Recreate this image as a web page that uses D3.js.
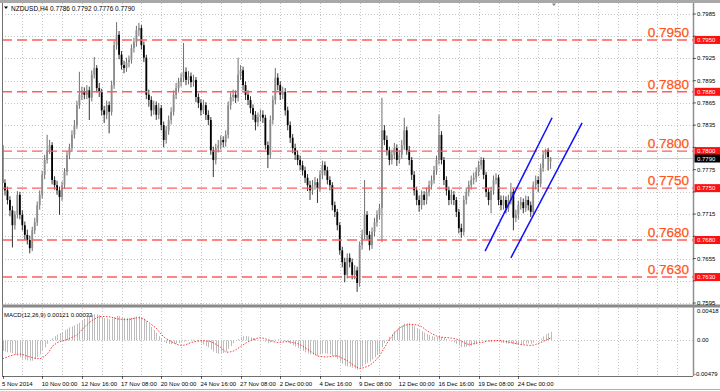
<!DOCTYPE html>
<html lang="en">
<meta charset="utf-8">
<title>NZDUSD,H4</title>
<style>
  body { margin: 0; background: #fff; }
  svg { display: block; font-family: "Liberation Sans", Arial, sans-serif; }
</style>
<body>
<div id="chartDiv"></div>
<script src="https://d3js.org/d3.v7.min.js"></script>
<script>
// H4 candles, oldest first, [open, high, low, close] in pips (x 0.0001)
var candles = [
  [7808,7811,7754,7757],[7757,7762,7740,7747],[7747,7752,7728,7734],[7734,7739,7712,7720],[7720,7726,7670,7700],
  [7700,7719,7694,7714],[7714,7746,7709,7741],[7741,7745,7708,7714],[7714,7720,7693,7700],[7700,7705,7680,7687],
  [7687,7694,7674,7680],[7680,7686,7662,7669],[7669,7698,7665,7693],[7693,7710,7688,7704],[7704,7732,7699,7727],
  [7727,7747,7721,7741],[7741,7773,7736,7768],[7768,7795,7762,7788],[7788,7822,7783,7801],[7801,7815,7796,7808],
  [7808,7812,7755,7761],[7761,7766,7748,7754],[7754,7760,7741,7747],[7747,7752,7714,7738],[7738,7759,7733,7754],
  [7754,7777,7749,7772],[7772,7800,7767,7795],[7795,7810,7789,7804],[7804,7828,7799,7822],[7822,7842,7817,7835],
  [7835,7868,7830,7862],[7862,7907,7857,7876],[7876,7887,7869,7880],[7880,7886,7870,7876],[7876,7889,7870,7882],
  [7882,7887,7842,7872],[7872,7909,7867,7903],[7903,7927,7898,7912],[7912,7916,7879,7885],[7885,7892,7873,7880],
  [7880,7884,7848,7855],[7855,7861,7838,7849],[7849,7868,7843,7862],[7862,7867,7824,7853],[7853,7895,7848,7889],
  [7889,7949,7884,7943],[7943,7974,7937,7957],[7957,7962,7924,7930],[7930,7935,7910,7916],[7916,7922,7905,7912],
  [7912,7926,7907,7920],[7920,7929,7913,7923],[7923,7944,7918,7939],[7939,7953,7933,7947],[7947,7969,7941,7963],
  [7963,7973,7955,7966],[7966,7970,7937,7943],[7943,7948,7920,7926],[7926,7930,7870,7876],[7876,7883,7860,7869],
  [7869,7874,7847,7855],[7855,7868,7849,7862],[7862,7867,7842,7849],[7849,7865,7843,7858],[7858,7862,7828,7835],
  [7835,7840,7805,7815],[7815,7834,7810,7828],[7828,7848,7822,7842],[7842,7859,7836,7853],[7853,7882,7848,7876],
  [7876,7892,7870,7885],[7885,7899,7879,7893],[7893,7905,7887,7899],[7899,7946,7893,7907],[7907,7913,7889,7896],
  [7896,7908,7890,7901],[7901,7906,7886,7893],[7893,7903,7887,7896],[7896,7900,7866,7873],[7873,7878,7858,7865],
  [7865,7870,7848,7855],[7855,7869,7850,7862],[7862,7866,7842,7849],[7849,7855,7835,7842],[7842,7846,7795,7801],
  [7801,7806,7765,7788],[7788,7810,7782,7804],[7804,7815,7798,7808],[7808,7821,7802,7815],[7815,7820,7805,7812],
  [7812,7828,7806,7822],[7822,7867,7817,7862],[7862,7879,7856,7873],[7873,7883,7867,7876],[7876,7882,7865,7872],
  [7872,7926,7867,7903],[7903,7916,7896,7909],[7909,7914,7882,7889],[7889,7894,7869,7876],[7876,7882,7862,7869],
  [7869,7874,7851,7858],[7858,7863,7842,7849],[7849,7854,7828,7839],[7839,7852,7833,7846],[7846,7856,7840,7849],
  [7849,7855,7838,7845],[7845,7849,7802,7808],[7808,7813,7777,7795],[7795,7848,7790,7842],[7842,7875,7836,7869],
  [7869,7912,7863,7899],[7899,7905,7882,7889],[7889,7894,7869,7876],[7876,7887,7870,7880],[7880,7885,7848,7855],
  [7855,7860,7828,7835],[7835,7840,7811,7818],[7818,7823,7797,7804],[7804,7810,7788,7795],[7795,7801,7781,7788],
  [7788,7794,7774,7781],[7781,7787,7767,7774],[7774,7779,7757,7764],[7764,7769,7746,7754],[7754,7760,7734,7747],
  [7747,7761,7741,7754],[7754,7765,7748,7758],[7758,7763,7730,7750],[7750,7774,7745,7768],[7768,7787,7762,7781],
  [7781,7786,7767,7774],[7774,7779,7755,7761],[7761,7766,7747,7754],[7754,7758,7720,7727],[7727,7732,7711,7718],
  [7718,7722,7693,7700],[7700,7704,7660,7666],[7666,7671,7643,7650],[7650,7656,7623,7633],[7633,7662,7628,7656],
  [7656,7662,7643,7650],[7650,7655,7627,7633],[7633,7646,7627,7639],[7639,7644,7610,7622],[7622,7678,7617,7673],
  [7673,7694,7667,7687],[7687,7761,7681,7714],[7714,7719,7680,7687],[7687,7692,7666,7673],[7673,7697,7668,7691],
  [7691,7710,7685,7704],[7704,7720,7698,7714],[7714,7729,7708,7723],[7723,7872,7677,7828],[7828,7835,7808,7815],
  [7815,7821,7794,7801],[7801,7806,7781,7788],[7788,7802,7782,7795],[7795,7811,7789,7804],[7804,7809,7780,7788],
  [7788,7801,7783,7795],[7795,7815,7790,7808],[7808,7845,7802,7828],[7828,7833,7795,7801],[7801,7807,7781,7788],
  [7788,7792,7761,7768],[7768,7773,7740,7747],[7747,7752,7727,7734],[7734,7740,7718,7727],[7727,7747,7721,7741],
  [7741,7746,7727,7734],[7734,7751,7728,7745],[7745,7760,7739,7754],[7754,7767,7748,7761],[7761,7780,7756,7774],
  [7774,7794,7768,7788],[7788,7849,7782,7822],[7822,7827,7782,7788],[7788,7792,7754,7761],[7761,7766,7740,7747],
  [7747,7752,7727,7734],[7734,7748,7728,7741],[7741,7746,7727,7734],[7734,7738,7711,7718],[7718,7722,7689,7696],
  [7696,7702,7683,7691],[7691,7740,7686,7734],[7734,7751,7728,7745],[7745,7760,7739,7754],[7754,7767,7748,7761],
  [7761,7771,7755,7764],[7764,7778,7758,7772],[7772,7787,7766,7781],[7781,7792,7775,7788],[7788,7791,7762,7768],
  [7768,7772,7738,7745],[7745,7750,7727,7734],[7734,7752,7716,7747],[7747,7767,7741,7761],[7761,7770,7755,7764],
  [7764,7768,7727,7734],[7734,7740,7720,7727],[7727,7740,7721,7734],[7734,7739,7716,7723],[7723,7741,7718,7734],
  [7734,7757,7728,7745],[7745,7749,7693,7710],[7710,7721,7704,7714],[7714,7733,7708,7727],[7727,7738,7721,7731],
  [7731,7736,7716,7723],[7723,7740,7718,7734],[7734,7739,7720,7727],[7727,7732,7711,7718],[7718,7759,7713,7754],
  [7754,7767,7748,7761],[7761,7766,7745,7756],[7756,7783,7751,7777],[7777,7800,7772,7795],[7795,7803,7790,7801],
  [7801,7804,7774,7792],[7786,7792,7776,7790]
];

// MACD(12,26,9) main (histogram) and signal, in units of 0.00001
var macdHist = [
  -150,-160,-170,-175,-185,-200,-220,-240,-260,-275,
  -285,-290,-290,-270,-240,-200,-150,-100,-50,0,
  30,60,85,105,120,145,165,185,200,215,
  235,250,280,310,330,350,360,370,370,360,
  330,315,310,300,310,330,350,345,335,325,
  320,320,325,330,340,345,330,310,270,230,
  190,150,110,60,20,-20,-40,-50,-55,-50,
  -45,-40,-30,-20,-10,0,10,10,0,-20,
  -40,-60,-80,-100,-130,-160,-180,-190,-190,-180,
  -160,-120,-80,-40,-10,20,50,60,60,55,
  45,35,20,10,5,0,-20,-40,-30,-10,
  10,15,10,5,-10,-30,-50,-70,-90,-110,
  -130,-150,-170,-185,-200,-205,-210,-215,-200,-190,
  -185,-190,-200,-220,-240,-270,-300,-330,-360,-370,
  -380,-390,-400,-420,-390,-370,-340,-320,-300,-270,
  -240,-210,-180,-100,-40,10,50,90,130,160,
  190,210,240,245,240,225,200,175,150,130,
  110,90,75,60,50,50,60,50,35,20,
  0,-15,-30,-50,-75,-95,-95,-90,-85,-75,
  -60,-45,-25,-5,5,-5,-20,-25,-20,-15,
  -25,-35,-40,-45,-45,-40,-55,-60,-55,-50,
  -50,-45,-45,-50,-30,-10,0,25,55,85,
  105,121
];
var macdSignal = [
  -262,-250,-238,-222,-212,-203,-197,-194,-200,-212,
  -225,-235,-245,-253,-259,-262,-250,-225,-194,-150,
  -86,-60,-35,-18,-8,0,10,25,42,60,
  78,110,150,186,222,254,280,302,322,336,
  340,341,340,336,328,318,309,303,299,296,
  295,297,303,312,319,322,315,300,282,255,
  225,200,173,130,88,50,25,3,-18,-35,
  -52,-65,-72,-70,-60,-45,-31,-22,-14,-8,
  -4,-5,-8,-12,-18,-35,-55,-78,-99,-135,
  -167,-168,-162,-154,-135,-112,-86,-65,-42,-20,
  -4,10,22,32,37,32,22,10,-3,-15,
  -25,-31,-28,-24,-20,-18,-22,-30,-38,-45,
  -62,-82,-104,-126,-150,-175,-200,-222,-230,-234,
  -236,-235,-230,-225,-222,-222,-235,-255,-272,-290,
  -315,-340,-365,-385,-399,-395,-385,-372,-358,-330,
  -300,-262,-222,-165,-105,-45,10,55,100,140,
  173,195,210,220,227,228,225,220,214,195,
  170,142,118,98,80,63,50,45,42,39,
  37,32,25,18,10,-10,-30,-48,-58,-55,
  -48,-40,-34,-31,-24,-15,-8,-4,-2,-2,
  -3,-4,-10,-17,-24,-31,-38,-45,-52,-58,
  -63,-67,-70,-72,-68,-58,-45,-31,-15,0,
  17,33
];

// time axis labels, one every 16 bars
var timeLabels = ["5 Nov 2014", "10 Nov 00:00", "12 Nov 16:00", "17 Nov 08:00", "20 Nov 00:00",
  "24 Nov 16:00", "27 Nov 08:00", "2 Dec 00:00", "4 Dec 16:00", "9 Dec 08:00",
  "12 Dec 00:00", "16 Dec 16:00", "19 Dec 08:00", "24 Dec 00:00"];
var priceTicks = [0.7595, 0.7625, 0.7655, 0.7685, 0.7715, 0.7745, 0.7775,
  0.7805, 0.7835, 0.7865, 0.7895, 0.7925, 0.7955, 0.7985];
var macdTicks = [0.00418, 0, -0.00479];
var macdTickText = ["0.00418", "0.00", "-0.00479"];
var levels = [0.7950, 0.7880, 0.7800, 0.7750, 0.7680, 0.7630];
var lastPrice = 0.7790;
// rising channel drawn by hand: [bar index, price] end points
var channelLines = [
  [[194.6, 0.7665], [221.6, 0.7845]],
  [[205.0, 0.7656], [233.7, 0.7838]]
];
var titleText = "NZDUSD,H4  0.7786 0.7792 0.7776 0.7790";
var macdTitle = "MACD(12,26,9) 0.00121 0.00033";

// Layout of the two panels.
var W = 720, H = 391;
var left = 2, right = 693;
var mainTop = 3, mainBottom = 304;
var macdTop = 308, macdBottom = 376;

var svg = d3.select("#chartDiv").append("svg").attr("width", W).attr("height", H);
svg.append("rect").attr("width", W).attr("height", H).attr("fill", "#fff");

var x = d3.scaleLinear().domain([0, candles.length - 1]).range([2.5, 2.5 + 2.48 * (candles.length - 1)]);
var y = d3.scaleLinear().domain([priceTicks[0], priceTicks[priceTicks.length - 1]]).range([303, 14]);
var ym = d3.scaleLinear().domain([macdTicks[2], macdTicks[0]]).range([374, 311]);
var pip = function(v) { return v / 10000; };
var mv = function(v) { return v / 100000; };

svg.append("clipPath").attr("id", "mainClip").append("rect")
  .attr("x", left).attr("y", mainTop).attr("width", right - left).attr("height", mainBottom - mainTop);
svg.append("clipPath").attr("id", "macdClip").append("rect")
  .attr("x", left).attr("y", macdTop).attr("width", right - left).attr("height", macdBottom - macdTop);

// ---- grid ----
var grid = svg.append("g").attr("stroke", "#c4c4c4").attr("stroke-width", 1).attr("stroke-dasharray", "1,2");
var gridIdx = d3.range(8, 400, 8).filter(function(i) { return x(i) < right - 4; });
grid.selectAll(".vg").data(gridIdx).join("line")
  .attr("x1", function(i) { return Math.round(x(i)) + 0.5; })
  .attr("x2", function(i) { return Math.round(x(i)) + 0.5; })
  .attr("y1", mainTop).attr("y2", mainBottom);
grid.selectAll(".vgm").data(gridIdx).join("line")
  .attr("x1", function(i) { return Math.round(x(i)) + 0.5; })
  .attr("x2", function(i) { return Math.round(x(i)) + 0.5; })
  .attr("y1", macdTop).attr("y2", macdBottom);
grid.selectAll(".hg").data(priceTicks).join("line")
  .attr("x1", left).attr("x2", right)
  .attr("y1", function(d) { return Math.round(y(d)) + 0.5; })
  .attr("y2", function(d) { return Math.round(y(d)) + 0.5; });
grid.append("line").attr("x1", left).attr("x2", right)
  .attr("y1", Math.round(ym(0)) + 0.5).attr("y2", Math.round(ym(0)) + 0.5);

// ---- main panel ----
var main = svg.append("g").attr("clip-path", "url(#mainClip)");

main.append("line").attr("x1", left).attr("x2", right)
  .attr("y1", y(lastPrice)).attr("y2", y(lastPrice))
  .attr("stroke", "#c8c8c8").attr("stroke-width", 1);

var bars = main.append("g").selectAll("g").data(candles).join("g");
bars.append("line")
  .attr("x1", function(d, i) { return x(i); })
  .attr("x2", function(d, i) { return x(i); })
  .attr("y1", function(d) { return y(pip(d[1])); })
  .attr("y2", function(d) { return y(pip(d[2])); })
  .attr("stroke", function(d) { return d[3] >= d[0] ? "#4a4a4a" : "#000"; })
  .attr("stroke-width", 0.8);
bars.append("rect")
  .attr("x", function(d, i) { return x(i) - 0.9; })
  .attr("width", 1.8)
  .attr("y", function(d) { return y(pip(Math.max(d[0], d[3]))); })
  .attr("height", function(d) { return Math.max(0.8, Math.abs(y(pip(d[0])) - y(pip(d[3])))); })
  .attr("fill", function(d) { return d[3] >= d[0] ? "#8c8c8c" : "#000"; });

main.selectAll(".lvl").data(levels).join("line")
  .attr("x1", left).attr("x2", right)
  .attr("y1", function(d) { return y(d); })
  .attr("y2", function(d) { return y(d); })
  .attr("stroke", "#ff5c5c").attr("stroke-width", 1.4)
  .attr("stroke-dasharray", "10,5");

main.selectAll(".chan").data(channelLines).join("line")
  .attr("x1", function(d) { return x(d[0][0]); })
  .attr("y1", function(d) { return y(d[0][1]); })
  .attr("x2", function(d) { return x(d[1][0]); })
  .attr("y2", function(d) { return y(d[1][1]); })
  .attr("stroke", "#1010ff").attr("stroke-width", 1.5);

// ---- MACD panel ----
var macd = svg.append("g").attr("clip-path", "url(#macdClip)");
macd.selectAll(".hist").data(macdHist).join("line")
  .attr("x1", function(d, i) { return Math.round(x(i)) + 0.5; })
  .attr("x2", function(d, i) { return Math.round(x(i)) + 0.5; })
  .attr("y1", ym(0))
  .attr("y2", function(d) { return ym(mv(d)); })
  .attr("stroke", "#bcbcbc").attr("stroke-width", 1);
macd.append("path").datum(macdSignal)
  .attr("d", d3.line().x(function(d, i) { return x(i); }).y(function(d) { return ym(mv(d)); }))
  .attr("fill", "none").attr("stroke", "#ff3030").attr("stroke-width", 1)
  .attr("stroke-dasharray", "1.5,1.5");

// ---- frames ----
var frame = svg.append("g").attr("fill", "none");
svg.append("rect").attr("x", 0).attr("y", 0).attr("width", W).attr("height", 3).attr("fill", "#a8a8a8");
frame.append("line").attr("x1", left + 0.5).attr("x2", left + 0.5).attr("y1", mainTop).attr("y2", macdBottom)
  .attr("stroke", "#707070");
frame.append("line").attr("x1", right + 0.5).attr("x2", right + 0.5).attr("y1", mainTop).attr("y2", macdBottom)
  .attr("stroke", "#909090").attr("stroke-width", 1.5);
svg.append("rect").attr("x", left).attr("y", mainBottom + 0.5).attr("width", W - left).attr("height", 3)
  .attr("fill", "#8a8a8a");
frame.append("line").attr("x1", left).attr("x2", right).attr("y1", macdBottom + 0.5).attr("y2", macdBottom + 0.5)
  .attr("stroke", "#707070");
frame.append("line").attr("x1", 0).attr("x2", W).attr("y1", 389.5).attr("y2", 389.5)
  .attr("stroke", "#b0b0b0");

// ---- texts ----
svg.append("path").attr("d", "M4,6.5L8,6.5L6,9Z").attr("fill", "#000");
svg.append("path").attr("d", "M552,3.5L556,3.5L554,6Z").attr("fill", "#808080");
svg.append("text").attr("x", 11).attr("y", 10.5).attr("font-size", 6.5).attr("fill", "#000")
  .text(titleText);
svg.append("text").attr("x", 4).attr("y", 316.5).attr("font-size", 6).attr("fill", "#000")
  .text(macdTitle);

// right price axis; labels hidden behind a level box are left out
var boxPrices = levels.concat([lastPrice]);
var freeTicks = priceTicks.filter(function(p) {
  return boxPrices.every(function(b) { return Math.abs(y(p) - y(b)) > 7.5; });
});
var axis = svg.append("g").attr("font-size", 6).attr("fill", "#000");
axis.selectAll(".pt").data(freeTicks).join("text")
  .attr("x", 697).attr("y", function(d) { return y(d) + 2; })
  .text(function(d) { return d.toFixed(4); });
axis.selectAll(".ptk").data(priceTicks).join("line")
  .attr("x1", right).attr("x2", right + 3)
  .attr("y1", function(d) { return y(d); }).attr("y2", function(d) { return y(d); })
  .attr("stroke", "#000").attr("stroke-width", 0.6);
axis.selectAll(".mt").data(macdTicks).join("text")
  .attr("x", function(d) { return d < 0 ? 694 : 697; })
  .attr("y", function(d) { return ym(d) + 2; })
  .text(function(d, i) { return macdTickText[i]; });

// big level captions
svg.selectAll(".cap").data(levels).join("text")
  .attr("x", 689).attr("y", function(d) { return y(d) - 3; })
  .attr("text-anchor", "end").attr("font-size", 13.5).attr("fill", "#ff5520")
  .attr("stroke", "#ff5520").attr("stroke-width", 0.25)
  .text(function(d) { return d.toFixed(4); });

// price boxes on the axis
var boxes = svg.selectAll(".box").data(boxPrices).join("g");
boxes.append("rect")
  .attr("x", 694.5).attr("width", 25.5)
  .attr("y", function(d) { return y(d) - 4; }).attr("height", 8)
  .attr("fill", function(d) { return d === lastPrice ? "#000" : "#ff1010"; });
boxes.append("text")
  .attr("x", 697).attr("y", function(d) { return y(d) + 2.2; })
  .attr("font-size", 6).attr("fill", "#fff")
  .text(function(d) { return d.toFixed(4); });

// time axis
var tIdx = timeLabels.map(function(t, k) { return k * 16; });
svg.selectAll(".tl").data(timeLabels).join("text")
  .attr("x", function(d, k) { return x(tIdx[k]) - 0.5; })
  .attr("y", 386)
  .attr("font-size", 6).attr("fill", "#000")
  .text(function(d) { return d; });
svg.selectAll(".tt").data(tIdx).join("line")
  .attr("x1", function(i) { return Math.round(x(i)) + 0.5; })
  .attr("x2", function(i) { return Math.round(x(i)) + 0.5; })
  .attr("y1", macdBottom).attr("y2", macdBottom + 3)
  .attr("stroke", "#000").attr("stroke-width", 0.6);
</script>
</body>
</html>
